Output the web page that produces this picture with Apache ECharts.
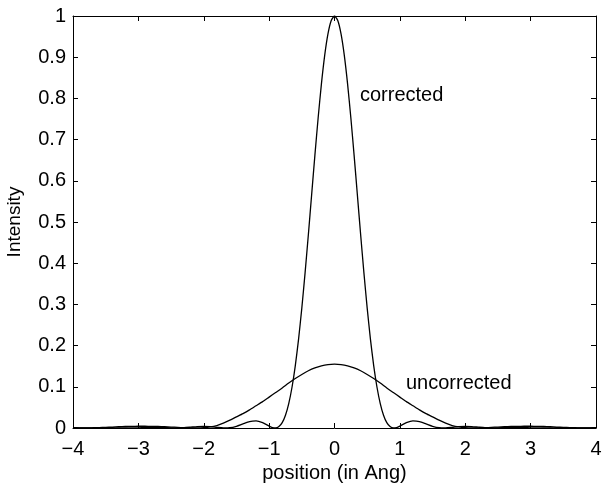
<!DOCTYPE html>
<html>
<head>
<meta charset="utf-8">
<script src="https://cdn.jsdelivr.net/npm/echarts@6/dist/echarts.min.js"></script>
<style>html,body{margin:0;padding:0;background:#fff}#c{width:605px;height:484px}</style>
</head>
<body>
<div id="c"></div>
<script>
var xTicks = [-4, -3, -2, -1, 0, 1, 2, 3, 4];
var yTicks = [0, 0.1, 0.2, 0.3, 0.4, 0.5, 0.6, 0.7, 0.8, 0.9, 1];

var uncorrectedX = [-4.0,-3.9,-3.8,-3.7,-3.6,-3.5,-3.4,-3.3,-3.2,-3.1,-3.0,-2.9,-2.8,-2.7,-2.6,-2.5,-2.4,-2.3,-2.2,-2.1,-2.0,-1.9,-1.8,-1.7,-1.6,-1.5,-1.4,-1.3,-1.2,-1.1,-1.0,-0.9,-0.8,-0.7,-0.6,-0.5,-0.4,-0.3,-0.2,-0.1,0.0,0.1,0.2,0.3,0.4,0.5,0.6,0.7,0.8,0.9,1.0,1.1,1.2,1.3,1.4,1.5,1.6,1.7,1.8,1.9,2.0,2.1,2.2,2.3,2.4,2.5,2.6,2.7,2.8,2.9,3.0,3.1,3.2,3.3,3.4,3.5,3.6,3.7,3.8,3.9,4.0];
var uncorrectedY = [0.0007,0.0005,0.0004,0.0006,0.0010,0.0016,0.0023,0.0030,0.0036,0.0040,0.0042,0.0042,0.0040,0.0036,0.0030,0.0023,0.0015,0.0008,0.0003,0.0002,0.0008,0.0025,0.0060,0.0120,0.0190,0.0270,0.0350,0.0440,0.0540,0.0640,0.0750,0.0860,0.0970,0.1090,0.1200,0.1300,0.1390,0.1460,0.1510,0.1540,0.1550,0.1540,0.1510,0.1460,0.1390,0.1300,0.1200,0.1090,0.0970,0.0860,0.0750,0.0640,0.0540,0.0440,0.0350,0.0270,0.0190,0.0120,0.0060,0.0025,0.0008,0.0002,0.0003,0.0008,0.0015,0.0023,0.0030,0.0036,0.0040,0.0042,0.0042,0.0040,0.0036,0.0030,0.0023,0.0016,0.0010,0.0006,0.0004,0.0005,0.0007];

var correctedX = [-4.0,-3.9,-3.8,-3.7,-3.6,-3.5,-3.4,-3.3,-3.2,-3.1,-3.0,-2.9,-2.8,-2.7,-2.6,-2.5,-2.4,-2.3,-2.2,-2.1,-2.0,-1.9,-1.8,-1.7,-1.6,-1.5,-1.4,-1.3,-1.2,-1.1,-1.0,-0.95,-0.9,-0.85,-0.8,-0.75,-0.7,-0.65,-0.6,-0.55,-0.5,-0.45,-0.4,-0.35,-0.3,-0.25,-0.2,-0.15,-0.1,-0.05,0.0,0.05,0.1,0.15,0.2,0.25,0.3,0.35,0.4,0.45,0.5,0.55,0.6,0.65,0.7,0.75,0.8,0.85,0.9,0.95,1.0,1.1,1.2,1.3,1.4,1.5,1.6,1.7,1.8,1.9,2.0,2.1,2.2,2.3,2.4,2.5,2.6,2.7,2.8,2.9,3.0,3.1,3.2,3.3,3.4,3.5,3.6,3.7,3.8,3.9,4.0];
var correctedY = [0.0001,0.0000,0.0001,0.0004,0.0007,0.0008,0.0006,0.0003,0.0000,0.0001,0.0005,0.0011,0.0015,0.0015,0.0009,0.0003,0.0000,0.0006,0.0020,0.0035,0.0041,0.0034,0.0016,0.0001,0.0006,0.0042,0.0100,0.0156,0.0172,0.0129,0.0046,0.0011,0.0001,0.0034,0.0130,0.0310,0.0593,0.0989,0.1509,0.2152,0.2910,0.3766,0.4692,0.5656,0.6618,0.7530,0.8354,0.9044,0.9565,0.9890,1.0000,0.9890,0.9565,0.9044,0.8354,0.7530,0.6618,0.5656,0.4692,0.3766,0.2910,0.2152,0.1509,0.0989,0.0593,0.0310,0.0130,0.0034,0.0001,0.0011,0.0046,0.0129,0.0172,0.0156,0.0100,0.0042,0.0006,0.0001,0.0016,0.0034,0.0041,0.0035,0.0020,0.0006,0.0000,0.0003,0.0009,0.0015,0.0015,0.0011,0.0005,0.0001,0.0000,0.0003,0.0006,0.0008,0.0007,0.0004,0.0001,0.0000,0.0001];

var seriesNames = ['corrected', 'uncorrected'];

function pairs(xs, ys) { return xs.map(function (x, i) { return [x, ys[i]]; }); }

var FONT = 'Liberation Sans, Arial, Helvetica, sans-serif';
var chart = echarts.init(document.getElementById('c'), null, {renderer: 'canvas'});

var axisCommon = {
  axisLine: {show: true, onZero: false, lineStyle: {color: '#000', width: 1}},
  axisTick: {show: true, inside: true, length: 5, lineStyle: {color: '#000', width: 1}},
  splitLine: {show: false}
};

chart.setOption({
  animation: false,
  backgroundColor: '#fff',
  grid: {left: 73, right: 9, top: 16, bottom: 56, containLabel: false, outerBoundsMode: 'none'},
  xAxis: [
    Object.assign({
      type: 'value', min: xTicks[0], max: xTicks[xTicks.length - 1], interval: 1, position: 'bottom',
      name: 'position (in Ang)', nameLocation: 'middle', nameGap: 35,
      nameTextStyle: {color: '#000', fontSize: 20, fontFamily: FONT},
      axisLabel: {color: '#000', fontSize: 20, fontFamily: FONT, margin: 11,
        formatter: function (v) { return String(v).replace('-', '\u2212'); }}
    }, axisCommon),
    Object.assign({
      type: 'value', min: xTicks[0], max: xTicks[xTicks.length - 1], interval: 1, position: 'top',
      axisLabel: {show: false}
    }, axisCommon)
  ],
  yAxis: [
    Object.assign({
      type: 'value', min: yTicks[0], max: yTicks[yTicks.length - 1], interval: 0.1, position: 'left',
      name: 'Intensity', nameLocation: 'middle', nameGap: 49,
      nameTextStyle: {color: '#000', fontSize: 19, fontFamily: FONT},
      axisLabel: {color: '#000', fontSize: 20, fontFamily: FONT, margin: 7}
    }, axisCommon),
    Object.assign({
      type: 'value', min: yTicks[0], max: yTicks[yTicks.length - 1], interval: 0.1, position: 'right',
      axisLabel: {show: false}
    }, axisCommon)
  ],
  series: [
    {
      name: seriesNames[0], type: 'line', xAxisIndex: 0, yAxisIndex: 0,
      data: pairs(correctedX, correctedY), showSymbol: false, smooth: 0.2,
      lineStyle: {color: '#000', width: 1.3}, z: 3
    },
    {
      name: seriesNames[1], type: 'line', xAxisIndex: 0, yAxisIndex: 0,
      data: pairs(uncorrectedX, uncorrectedY), showSymbol: false, smooth: 0.2,
      lineStyle: {color: '#000', width: 1.3}, z: 3
    }
  ],
  graphic: [
    {type: 'text', left: 360, top: 85, style: {text: seriesNames[0], fill: '#000', font: '20px ' + FONT}},
    {type: 'text', left: 406, top: 373, style: {text: seriesNames[1], fill: '#000', font: '20px ' + FONT}}
  ]
});
</script>
</body>
</html>
